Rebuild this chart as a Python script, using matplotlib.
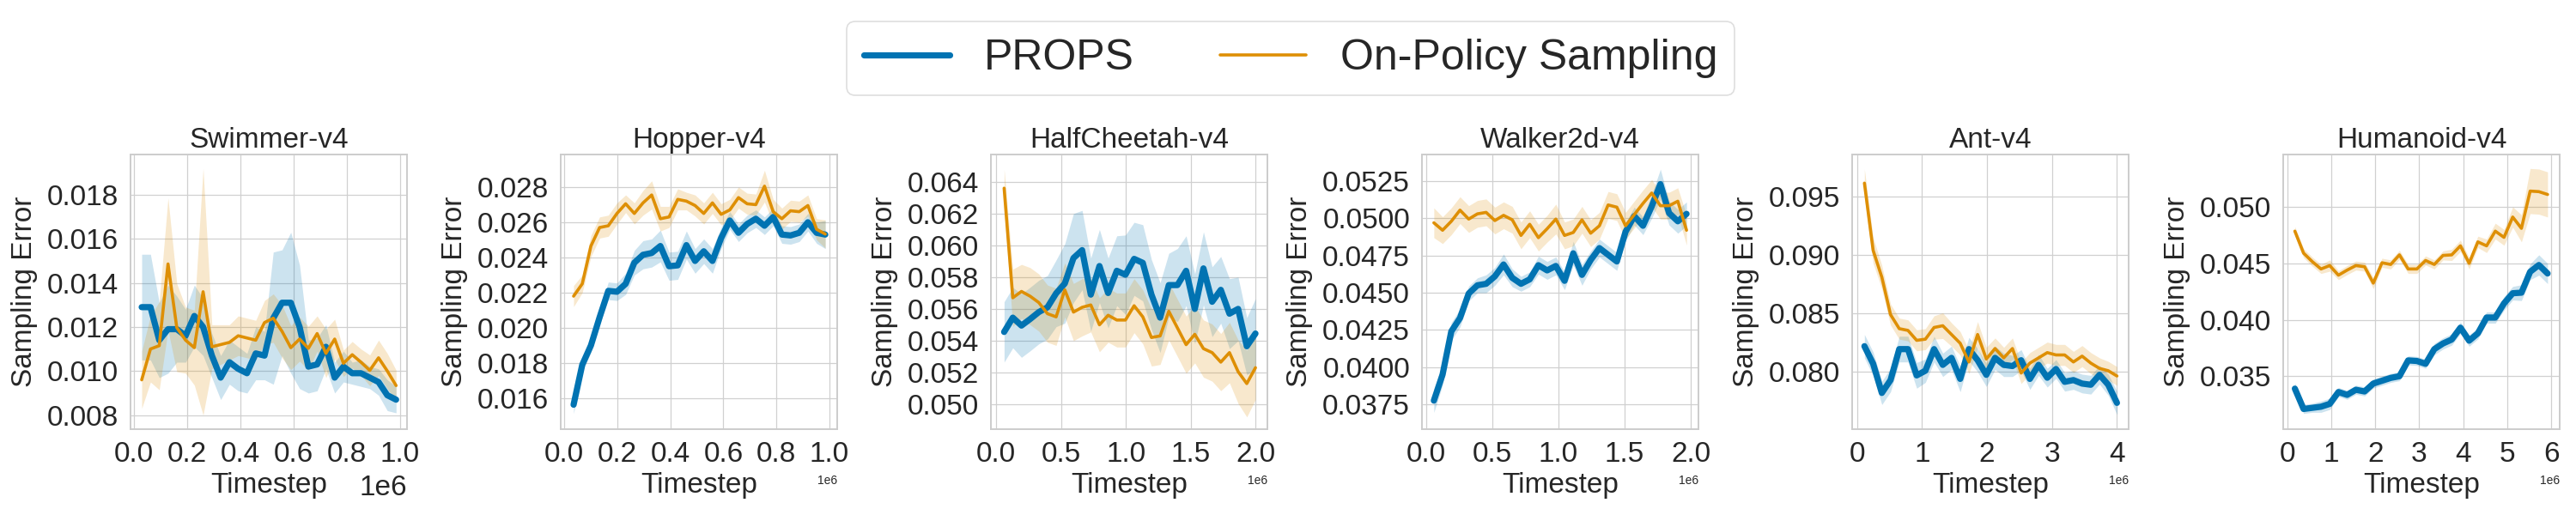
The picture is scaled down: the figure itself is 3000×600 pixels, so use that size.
import numpy as np
import matplotlib
matplotlib.use("Agg")
import matplotlib.pyplot as plt
from matplotlib.ticker import MultipleLocator
import seaborn as sns

sns.set_theme(style="whitegrid")
plt.rcParams['font.family'] = ['Liberation Sans', 'DejaVu Sans']

# ---------------- data (sampling error values are x1e-3) ----------------
envs = ["Swimmer-v4", "Hopper-v4", "HalfCheetah-v4", "Walker2d-v4", "Ant-v4", "Humanoid-v4"]
n_points = 30
# first / last timestep of each environment (x1e6)
t_first = [0.03, 0.0355, 0.062, 0.058, 0.114, 0.175]
t_last = [0.985, 0.984, 2.0, 1.968, 4.0, 5.915]

swimmer_props = [12.9, 12.9, 11.4, 11.9, 11.9, 11.6, 12.5, 12.0, 10.7, 9.7, 10.4, 10.1, 9.9, 10.8, 10.7,
                 12.4, 13.1, 13.1, 12.0, 10.2, 10.3, 11.1, 9.7, 10.2, 9.9, 9.9, 9.7, 9.5, 8.9, 8.7]
swimmer_props_hw = [2.4, 2.4, 1.7, 2.0, 1.5, 1.2, 1.4, 1.3, 1.0, 1.0, 1.0, 1.0, 0.9, 1.2, 1.1,
                    3.0, 2.4, 3.2, 2.8, 1.2, 1.2, 1.0, 0.7, 0.7, 0.5, 0.6, 0.5, 0.6, 0.7, 0.6]
swimmer_onp = [9.6, 11.0, 11.15, 14.86, 11.97, 11.4, 11.06, 13.6, 11.1, 11.2, 11.3, 11.6, 11.5, 11.4, 12.2,
               12.4, 11.8, 11.06, 11.45, 11.03, 11.7, 10.8, 11.45, 10.35, 10.74, 10.4, 10.03, 10.6, 10.0, 9.34]
swimmer_onp_hw = [1.3, 1.5, 2.0, 3.0, 2.0, 1.5, 1.7, 5.6, 1.0, 0.9, 0.8, 0.9, 0.9, 0.9, 1.0,
                  1.1, 1.2, 1.0, 1.0, 1.0, 0.8, 1.1, 0.9, 0.6, 0.6, 0.6, 0.7, 0.8, 0.8, 0.7]

hopper_props = [15.63, 17.9, 19.0, 20.6, 22.1, 22.05, 22.5, 23.7, 24.15, 24.25, 24.65, 23.5, 23.55, 24.7, 23.8,
                24.35, 23.8, 25.1, 26.1, 25.4, 25.9, 26.2, 25.8, 26.3, 25.3, 25.25, 25.4, 26.0, 25.4, 25.3]
hopper_props_hw = [0.5, 0.4, 0.4, 0.4, 0.5, 0.5, 0.6, 0.7, 0.8, 0.8, 0.9, 0.8, 0.8, 0.8, 0.7,
                   0.7, 0.7, 0.6, 0.5, 0.5, 0.5, 0.5, 0.5, 0.5, 0.5, 0.5, 0.5, 0.5, 0.6, 0.8]
hopper_onp = [21.8, 22.5, 24.65, 25.7, 25.8, 26.5, 27.05, 26.5, 27.1, 27.55, 26.2, 26.3, 27.3, 27.2, 26.95,
              26.5, 27.1, 26.45, 26.7, 27.4, 27.05, 27.0, 28.05, 26.6, 26.2, 26.65, 26.6, 26.95, 25.6, 25.33]
hopper_onp_hw = [0.6, 0.5, 0.6, 0.6, 0.6, 0.6, 0.5, 0.6, 0.7, 0.8, 0.7, 0.6, 0.6, 0.5, 0.6,
                 0.6, 0.6, 0.6, 0.6, 0.6, 0.6, 0.6, 0.9, 0.7, 0.6, 0.6, 0.6, 0.6, 0.6, 0.8]

cheetah_props = [54.55, 55.45, 54.95, 55.36, 55.8, 56.1, 56.98, 57.6, 59.2, 59.7, 56.9, 58.7, 57.0, 58.4, 58.15,
                 59.15, 58.9, 56.9, 55.45, 57.5, 57.5, 58.4, 56.0, 58.55, 56.45, 57.2, 55.7, 56.0, 53.65, 54.45]
cheetah_props_hw = [1.9, 1.9, 2.0, 2.0, 2.0, 2.0, 2.1, 2.5, 2.8, 2.5, 2.3, 2.3, 2.2, 2.2, 2.5,
                    2.3, 2.4, 2.2, 2.2, 2.0, 2.3, 2.2, 2.2, 2.3, 2.2, 2.1, 2.2, 2.0, 1.8, 2.2]
cheetah_onp = [63.6, 56.7, 57.1, 56.8, 56.4, 55.7, 55.5, 57.2, 55.8, 56.1, 56.25, 55.0, 55.6, 55.3, 55.3,
               56.2, 55.5, 54.2, 54.3, 55.85, 54.8, 53.75, 54.4, 53.5, 53.25, 52.65, 53.25, 52.05, 51.3, 52.3]
cheetah_onp_hw = [1.2, 1.8, 1.7, 1.8, 1.8, 1.8, 1.8, 1.7, 1.8, 1.8, 1.7, 1.7, 1.7, 1.7, 1.7,
                  1.7, 1.7, 1.8, 1.8, 1.8, 1.8, 1.8, 1.8, 1.8, 1.8, 1.8, 1.9, 2.0, 2.1, 2.0]

walker_props = [37.75, 39.5, 42.4, 43.3, 44.95, 45.5, 45.6, 46.1, 46.9, 46.0, 45.6, 45.9, 46.85, 46.5, 46.8,
                45.8, 47.65, 46.2, 47.2, 48.0, 47.55, 47.1, 49.1, 50.15, 49.5, 50.8, 52.3, 50.35, 49.8, 50.3]
walker_props_hw = [0.8, 0.7, 0.6, 0.6, 0.5, 0.5, 0.6, 0.6, 0.7, 0.6, 0.5, 0.5, 0.6, 0.6, 0.6,
                   0.6, 0.8, 0.7, 0.6, 0.6, 0.6, 0.6, 0.6, 0.6, 0.6, 0.8, 1.0, 0.8, 0.8, 0.8]
walker_onp = [49.7, 49.2, 49.8, 50.55, 49.95, 50.3, 50.4, 49.85, 50.2, 49.9, 48.85, 49.6, 48.7, 49.3, 49.95,
              48.85, 49.05, 49.9, 49.0, 49.5, 50.9, 50.75, 49.5, 50.25, 51.0, 51.7, 50.85, 50.85, 51.15, 49.2]
walker_onp_hw = [1.0, 0.9, 0.9, 0.9, 0.9, 0.9, 0.9, 0.9, 0.9, 0.9, 0.9, 0.9, 0.9, 0.9, 1.0,
                 0.9, 0.9, 0.9, 0.9, 0.9, 0.9, 0.9, 0.9, 0.9, 0.9, 0.9, 0.9, 0.9, 0.9, 1.0]

ant_props = [82.2, 80.7, 78.2, 79.3, 81.95, 81.95, 79.7, 80.1, 81.95, 80.6, 81.2, 79.4, 81.95, 81.0, 79.75,
             81.2, 80.6, 80.5, 81.0, 79.4, 80.6, 79.5, 80.25, 79.15, 79.3, 79.0, 78.9, 79.75, 78.9, 77.35]
ant_props_hw = [1.0, 1.0, 1.0, 1.0, 1.1, 1.1, 1.1, 1.0, 1.1, 1.0, 1.0, 1.1, 1.0, 1.0, 1.0,
                1.0, 1.0, 0.9, 0.9, 0.9, 0.9, 0.8, 0.8, 0.8, 0.8, 0.8, 0.8, 0.8, 0.9, 1.0]
ant_onp = [96.15, 90.4, 88.1, 84.9, 83.7, 83.55, 82.7, 82.8, 83.8, 83.95, 83.2, 82.45, 80.85, 83.2, 81.1,
           82.0, 81.2, 82.0, 79.9, 80.75, 81.2, 81.65, 81.45, 81.45, 80.85, 81.35, 80.75, 80.3, 80.1, 79.65]
ant_onp_hw = [1.2, 1.1, 1.0, 0.9, 0.9, 0.9, 0.9, 0.9, 1.0, 1.1, 1.0, 1.0, 1.0, 1.1, 1.0,
              0.9, 0.9, 0.9, 0.9, 0.9, 0.9, 0.9, 0.9, 0.9, 0.9, 0.9, 0.9, 0.9, 0.8, 0.8]

humanoid_props = [33.9, 32.1, 32.2, 32.3, 32.55, 33.6, 33.35, 33.8, 33.65, 34.35, 34.6, 34.85, 35.0, 36.4, 36.35,
                  36.1, 37.4, 37.9, 38.25, 39.3, 38.15, 38.8, 40.2, 40.2, 41.45, 42.35, 42.4, 44.25, 44.85, 44.1]
humanoid_props_hw = [0.5, 0.4, 0.4, 0.5, 0.5, 0.4, 0.4, 0.4, 0.4, 0.4, 0.4, 0.4, 0.4, 0.4, 0.4,
                     0.4, 0.5, 0.5, 0.5, 0.5, 0.5, 0.5, 0.5, 0.5, 0.6, 0.6, 0.7, 0.7, 0.9, 0.9]
humanoid_onp = [47.85, 45.9, 45.15, 44.5, 44.8, 43.95, 44.4, 44.8, 44.7, 43.25, 45.05, 44.9, 45.75, 44.5, 44.5,
                45.25, 44.9, 45.7, 45.75, 46.55, 45.0, 46.9, 46.55, 47.85, 47.3, 49.1, 48.1, 51.4, 51.35, 51.1]
humanoid_onp_hw = [0.4, 0.4, 0.4, 0.4, 0.5, 0.4, 0.4, 0.4, 0.4, 0.5, 0.4, 0.4, 0.4, 0.4, 0.4,
                   0.4, 0.4, 0.4, 0.5, 0.5, 0.5, 0.5, 0.6, 0.7, 0.7, 0.9, 1.2, 2.0, 2.0, 2.0]

props_means = [swimmer_props, hopper_props, cheetah_props, walker_props, ant_props, humanoid_props]
props_hws = [swimmer_props_hw, hopper_props_hw, cheetah_props_hw, walker_props_hw, ant_props_hw, humanoid_props_hw]
onp_means = [swimmer_onp, hopper_onp, cheetah_onp, walker_onp, ant_onp, humanoid_onp]
onp_hws = [swimmer_onp_hw, hopper_onp_hw, cheetah_onp_hw, walker_onp_hw, ant_onp_hw, humanoid_onp_hw]

# axis limits (x in 1e6 timesteps, y in 1e-3) and tick steps
xlims = [(-0.012, 1.026), (-0.013, 1.029), (-0.04, 2.092), (-0.032, 2.058), (-0.075, 4.18), (-0.09, 6.19)]
ylims = [(7.36, 19.83), (14.24, 29.85), (48.43, 65.72), (35.83, 54.29), (75.1, 98.6), (30.31, 54.64)]
xstep = [0.2, 0.2, 0.5, 0.5, 1.0, 1.0]
ystep = [2.0, 2.0, 2.0, 2.5, 5.0, 5.0]

labels = ["PROPS", "On-Policy Sampling"]
colors = ["#0173b2", "#de8f05"]
lws = [2.6, 1.3]

# ---------------- figure ----------------
fig = plt.figure(figsize=(15, 3), dpi=200)
W, H = 3000, 600
lefts = [152, 653, 1154, 1656, 2157, 2659]
ax_w, ax_h, ax_top = 322, 320, 180
text_c = "#262626"

for i, env in enumerate(envs):
    ax = fig.add_axes([lefts[i] / W, 1 - (ax_top + ax_h) / H, ax_w / W, ax_h / H])
    t = np.linspace(t_first[i], t_last[i], n_points) * 1e6
    series = [(props_means[i], props_hws[i]), (onp_means[i], onp_hws[i])]
    for k, (m, hw) in enumerate(series):
        m = np.asarray(m) * 1e-3
        hw = np.asarray(hw) * 1e-3
        ax.fill_between(t, m - hw, m + hw, color=colors[k], alpha=0.2, linewidth=0)
    for k, (m, hw) in enumerate(series):
        m = np.asarray(m) * 1e-3
        ax.plot(t, m, color=colors[k], lw=lws[k], label=labels[k],
                solid_capstyle='round', solid_joinstyle='round')
    ax.set_xlim(xlims[i][0] * 1e6, xlims[i][1] * 1e6)
    ax.set_ylim(ylims[i][0] * 1e-3, ylims[i][1] * 1e-3)
    ax.xaxis.set_major_locator(MultipleLocator(xstep[i] * 1e6))
    ax.yaxis.set_major_locator(MultipleLocator(ystep[i] * 1e-3))
    ax.ticklabel_format(axis='x', style='sci', scilimits=(0, 0), useMathText=False)
    ax.set_title(env, fontsize=12, color=text_c, pad=3)
    ax.set_xlabel("Timestep", fontsize=12, color=text_c, labelpad=2)
    ax.set_ylabel("Sampling Error", fontsize=12, color=text_c, labelpad=4)
    ax.tick_params(axis='both', labelsize=12, colors=text_c, pad=5, length=0)
    ax.xaxis.get_offset_text().set_fontsize(12 if i == 0 else 5)
    ax.xaxis.get_offset_text().set_color(text_c)
    ax.grid(True, color="#d0d0d0", lw=0.45)
    for s in ax.spines.values():
        s.set_color("#cccccc")
        s.set_linewidth(0.7)
    if i == 0:
        handles, labs = ax.get_legend_handles_labels()

leg = fig.legend(handles, labs, loc='upper center', bbox_to_anchor=(0.501, 1 - 25 / H), ncol=2,
                 fontsize=18, frameon=True, columnspacing=2.0, handlelength=2.0, borderaxespad=0)
leg.get_frame().set_edgecolor("#d6d6d6")
leg.get_frame().set_linewidth(0.6)
for txt in leg.get_texts():
    txt.set_color(text_c)

fig.savefig("out.png", dpi=200)
